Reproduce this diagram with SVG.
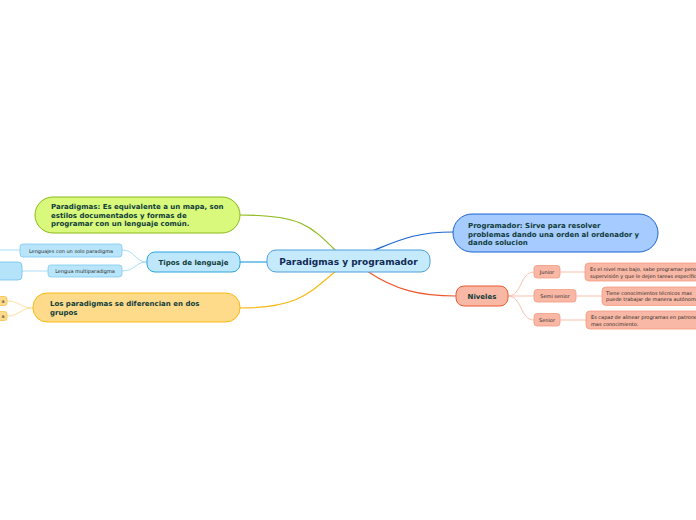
<svg xmlns="http://www.w3.org/2000/svg" width="696" height="520" viewBox="0 0 696 520">
<style>
text{font-family:"DejaVu Sans","Verdana",sans-serif}
.b{font-weight:bold}
.main{font-size:7px;fill:#0f3b3a;font-weight:bold}
.sm{font-size:5px;fill:#2a2a2a}
.ln{fill:none;stroke-width:1.2}
.sl{fill:none;stroke-width:1}
</style>
<rect width="696" height="520" fill="#ffffff"/>
<g id="connectors">
<path class="ln" stroke="#8cb818" d="M240,215 C300,215 310,225 336,251"/>
<path class="ln" stroke="#2aa4e0" d="M240,262 L267,262"/>
<path class="ln" stroke="#f8b912" d="M240,308 C300,308 310,292 336,271"/>
<path class="ln" stroke="#1a63d2" d="M372,251 C400,240 415,232 453,232"/>
<path class="ln" stroke="#ec5a2c" d="M367,271 C395,290 420,296 456,296"/>
<path class="sl" stroke="#a8ddf6" d="M147,262 C135,262 135,250 122,250"/>
<path class="sl" stroke="#a8ddf6" d="M147,262 C135,262 135,271 122,271"/>
<path class="sl" stroke="#a8ddf6" d="M20,250 L0,250"/>
<path class="sl" stroke="#a8ddf6" d="M48,271 L22,271"/>
<path class="sl" stroke="#fde0a0" d="M33,308 C20,308 20,301 7,301"/>
<path class="sl" stroke="#fde0a0" d="M33,308 C20,308 20,316 7,316"/>
<path class="sl" stroke="#fbbfae" d="M508,296 C522,296 520,272 534,272"/>
<path class="sl" stroke="#fbbfae" d="M508,296 L534,296"/>
<path class="sl" stroke="#fbbfae" d="M508,296 C522,296 520,320 534,320"/>
<path class="sl" stroke="#fbbfae" d="M560,272 L585,272"/>
<path class="sl" stroke="#fbbfae" d="M576,296 L602,296"/>
<path class="sl" stroke="#fbbfae" d="M560,320 L586,320"/>
</g>
<g id="central">
<rect x="267" y="250" width="163" height="22" rx="9" fill="#c5eafc" stroke="#4f9fdc" stroke-width="1"/>
<text x="348.5" y="264.5" text-anchor="middle" class="b" font-size="9" fill="#102a55">Paradigmas y programador</text>
</g>
<g id="paradigmas">
<rect x="35" y="197" width="205" height="36" rx="18" fill="#d8f97c" stroke="#8cb818" stroke-width="1"/>
<text class="main"><tspan x="51" y="209">Paradigmas: Es equivalente a un mapa, son</tspan><tspan x="51" y="217.5">estilos documentados y formas de</tspan><tspan x="51" y="226">programar con un lenguaje común.</tspan></text>
</g>
<g id="tipos">
<rect x="147" y="252" width="93" height="20" rx="8" fill="#bfe7fb" stroke="#2aa4e0" stroke-width="1"/>
<text x="193.5" y="264.5" text-anchor="middle" class="main">Tipos de lenguaje</text>
</g>
<g id="solo">
<rect x="20" y="244" width="102" height="13" rx="3" fill="#b9e5fa" stroke="#7ccaf0" stroke-width="0.8"/>
<text x="71" y="252.5" text-anchor="middle" class="sm">Lenguajes con un solo paradigma</text>
</g>
<g id="multi">
<rect x="48" y="265" width="74" height="12" rx="3" fill="#b9e5fa" stroke="#7ccaf0" stroke-width="0.8"/>
<text x="85" y="272.8" text-anchor="middle" class="sm">Lengua multiparadigma</text>
</g>
<g id="multi-child">
<rect x="-10" y="262" width="32" height="18" rx="4" fill="#b5e3fa" stroke="#6cc2ee" stroke-width="0.8"/>
</g>
<g id="grupos">
<rect x="33" y="293" width="207" height="29" rx="14" fill="#fedb8b" stroke="#f8b912" stroke-width="1"/>
<text class="main"><tspan x="50" y="306">Los paradigmas se diferencian en dos</tspan><tspan x="50" y="314.5">grupos</tspan></text>
</g>
<g id="grupo1">
<rect x="-10" y="296.5" width="17" height="9" rx="2.5" fill="#fedb8b" stroke="#f5c04a" stroke-width="0.8"/>
<text x="4.5" y="303" text-anchor="end" class="sm">a</text>
</g>
<g id="grupo2">
<rect x="-10" y="311.5" width="17" height="9" rx="2.5" fill="#fedb8b" stroke="#f5c04a" stroke-width="0.8"/>
<text x="4.5" y="318" text-anchor="end" class="sm">a</text>
</g>
<g id="programador">
<rect x="453" y="214" width="205" height="38" rx="19" fill="#a6cbfe" stroke="#1a63d2" stroke-width="1"/>
<text class="main"><tspan x="468" y="228">Programador: Sirve para resolver</tspan><tspan x="468" y="236.5">problemas dando una orden al ordenador y</tspan><tspan x="468" y="245">dando solucion</tspan></text>
</g>
<g id="niveles">
<rect x="456" y="286" width="52" height="20" rx="8" fill="#f9b8a5" stroke="#ec5a2c" stroke-width="1"/>
<text x="482" y="299" text-anchor="middle" class="main" font-size="7.5">Niveles</text>
</g>
<g id="junior">
<rect x="534" y="265.5" width="26" height="12.5" rx="3" fill="#f9b8a5" stroke="#f59a80" stroke-width="0.8"/>
<text x="547" y="273.8" text-anchor="middle" class="sm">Junior</text>
</g>
<g id="semi">
<rect x="534" y="289.5" width="42" height="12.5" rx="3" fill="#f9b8a5" stroke="#f59a80" stroke-width="0.8"/>
<text x="555" y="297.8" text-anchor="middle" class="sm">Semi senior</text>
</g>
<g id="senior">
<rect x="534" y="313.5" width="26" height="12.5" rx="3" fill="#f9b8a5" stroke="#f59a80" stroke-width="0.8"/>
<text x="547" y="321.8" text-anchor="middle" class="sm">Senior</text>
</g>
<g id="junior-desc">
<rect x="585" y="263" width="130" height="18" rx="4" fill="#f9b8a5" stroke="#f59a80" stroke-width="0.8"/>
<text class="sm"><tspan x="590" y="271">Es el nivel mas bajo, sabe programar pero</tspan><tspan x="590" y="277.5">supervisión y que le dejen tareas específicas</tspan></text>
</g>
<g id="semi-desc">
<rect x="602" y="287" width="120" height="18.5" rx="4" fill="#f9b8a5" stroke="#f59a80" stroke-width="0.8"/>
<text class="sm"><tspan x="606" y="294.5">Tiene conocimientos técnicos mas</tspan><tspan x="606" y="301">puede trabajar de manera autónoma</tspan></text>
</g>
<g id="senior-desc">
<rect x="586" y="311" width="130" height="18" rx="4" fill="#f9b8a5" stroke="#f59a80" stroke-width="0.8"/>
<text class="sm"><tspan x="591" y="319">Es capaz de alinear programas en patrones</tspan><tspan x="591" y="325.5">mas conocimiento.</tspan></text>
</g>
</svg>
